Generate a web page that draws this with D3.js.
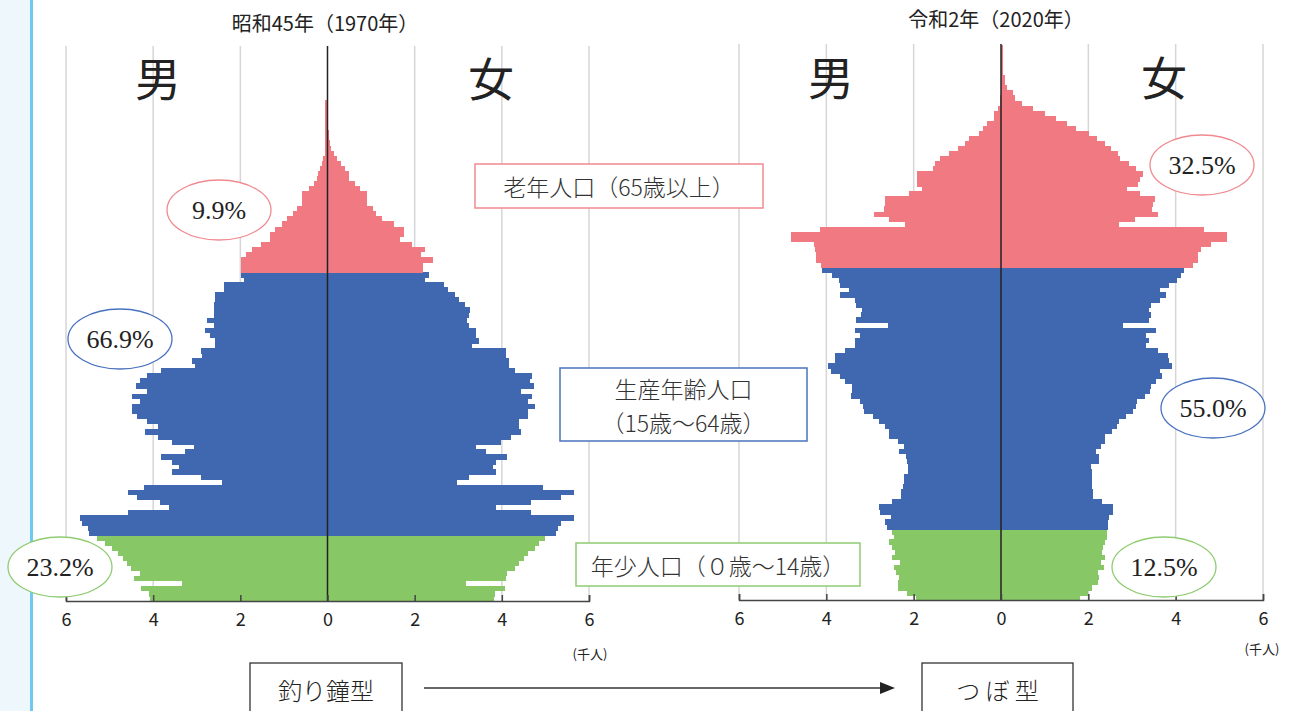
<!DOCTYPE html>
<html>
<head>
<meta charset="utf-8">
<script src="https://d3js.org/d3.v7.min.js"></script>
<style>
  body { margin: 0; background: #fff; }
  svg { display: block; }
</style>
</head>
<body>
<svg id="chart" width="1292" height="711"></svg>
<script>
// ---- data (thousand people, by single year of age, youngest first) ----
// 1970
const male1970Young = [4.08, 4.1, 4.27, 3.33, 4.45, 4.3, 4.5, 4.6, 4.7, 4.8, 4.95, 5.1, 5.3];
const female1970Young = [3.82, 3.85, 4.08, 3.18, 4.1, 4.12, 4.3, 4.4, 4.5, 4.6, 4.75, 4.85, 5.0];
const male1970Working = [5.47, 5.5, 5.63, 5.69, 4.57, 3.63, 3.85, 4.36, 4.57, 4.21, 2.43, 2.91, 3.57, 3.41, 3.57, 3.81, 3.28, 3.07, 3.57, 3.89,
  4.19, 3.89, 4.15, 4.36, 4.49, 4.49, 4.31, 4.49, 4.15, 4.39, 4.31, 4.15, 3.81, 3.03, 3.12, 2.87, 2.91, 2.57, 2.57, 2.69,
  2.82, 2.61, 2.77, 2.61, 2.61, 2.61, 2.57, 2.57, 2.38, 2.38, 1.92, 1.98];
const female1970Working = [5.25, 5.3, 5.35, 5.65, 4.66, 3.87, 4.66, 5.35, 5.65, 4.95, 2.98, 3.24, 3.87, 3.79, 3.87, 4.12, 3.63, 3.41, 3.97, 4.2,
  4.45, 4.4, 4.4, 4.61, 4.61, 4.77, 4.6, 4.69, 4.45, 4.74, 4.64, 4.69, 4.3, 4.16, 4.16, 4.1, 4.1, 3.32, 3.48, 3.41,
  3.41, 3.25, 3.21, 3.25, 3.27, 3.16, 3.02, 2.92, 2.76, 2.68, 2.24, 2.33];
const male1970Old = [1.98, 1.98, 1.98, 1.88, 1.74, 1.52, 1.31, 1.31, 1.2, 1.05, 0.93, 0.8, 0.7, 0.58, 0.58, 0.58, 0.42, 0.32, 0.25, 0.22,
  0.18, 0.13, 0.1, 0.06, 0.06, 0.06, 0.06, 0.06, 0.06, 0.06, 0.06, 0.06, 0.06, 0.06];
const female1970Old = [2.2, 2.2, 2.41, 2.15, 2.24, 1.95, 1.67, 1.75, 1.75, 1.52, 1.26, 1.12, 1.04, 0.91, 0.91, 0.91, 0.75, 0.62, 0.49, 0.49,
  0.41, 0.32, 0.21, 0.15, 0.09, 0.055, 0.03, 0.03, 0, 0, 0, 0, 0, 0];

// 2020
const male2020Young = [1.94, 2.16, 2.35, 2.35, 2.33, 2.41, 2.45, 2.31, 2.49, 2.43, 2.49, 2.57, 2.44, 2.5];
const female2020Young = [1.8, 2.0, 2.08, 2.22, 2.25, 2.22, 2.35, 2.28, 2.39, 2.31, 2.34, 2.39, 2.43, 2.42];
const male2020Working = [2.62, 2.65, 2.53, 2.76, 2.8, 2.5, 2.28, 2.28, 2.24, 2.21, 2.21, 2.13, 2.13, 2.16, 2.17, 2.33, 2.21, 2.37, 2.57, 2.57, 2.65,
  2.8, 2.92, 3.13, 3.16, 3.24, 3.43, 3.42, 3.42, 3.57, 3.69, 3.89, 3.96, 3.8, 3.8, 3.57, 3.34, 3.34, 3.23, 3.34, 2.58,
  3.32, 3.2, 3.18, 3.31, 3.34, 3.69, 3.47, 3.69, 3.7, 3.88, 4.1];
const female2020Working = [2.44, 2.46, 2.47, 2.57, 2.57, 2.31, 2.1, 2.1, 2.08, 2.08, 2.08, 2.08, 2.06, 2.25, 2.24, 2.17, 2.28, 2.39, 2.39, 2.55, 2.65,
  2.71, 2.87, 3.02, 3.09, 3.12, 3.3, 3.42, 3.43, 3.54, 3.69, 3.65, 3.91, 3.85, 3.83, 3.59, 3.32, 3.4, 3.32, 3.54, 2.79,
  3.4, 3.43, 3.4, 3.43, 3.64, 3.77, 3.65, 3.85, 4.02, 4.13, 4.2];
const male2020Old = [4.13, 4.24, 4.24, 4.26, 4.28, 4.81, 4.81, 4.15, 2.2, 2.56, 2.91, 2.68, 2.65, 2.65, 2.11, 1.81, 1.93, 1.93, 1.93,
  1.56, 1.52, 1.4, 1.19, 0.98, 0.83, 0.73, 0.5, 0.42, 0.31, 0.17, 0.15, 0.07, 0.03, 0.02, 0, 0, 0, 0, 0, 0, 0, 0, 0, 0];
const female2020Old = [4.39, 4.5, 4.52, 4.58, 4.82, 5.17, 5.17, 4.65, 2.7, 3.08, 3.59, 3.46, 3.49, 3.53, 3.18, 2.88, 3.14, 3.18, 3.26,
  3.1, 2.93, 2.73, 2.67, 2.52, 2.39, 2.2, 2.02, 1.72, 1.5, 1.26, 1.0, 0.74, 0.48, 0.32, 0.28, 0.13, 0.09, 0.09, 0.05,
  0.05, 0.05, 0.05, 0.05, 0.05];

const tickValues = [-6, -4, -2, 0, 2, 4, 6];
const shares1970 = ['23.2%', '66.9%', '9.9%'];
const shares2020 = ['12.5%', '55.0%', '32.5%'];
const groupLabels = ['年少人口（０歳〜14歳）', ['生産年齢人口', '（15歳〜64歳）'], '老年人口（65歳以上）'];
const shapeLabels = ['釣り鐘型', 'つ ぼ 型'];

// ---- drawing ----
const svg = d3.select('svg#chart');
const jp = '"Noto Sans CJK JP", "Noto Sans", sans-serif';
const serif = '"Liberation Serif", "DejaVu Serif", serif';
const colors = {young: '#88c766', working: '#3f68b1', old: '#f17a82'};
const strokes = {young: '#8fcc72', working: '#4a72bf', old: '#f08a90'};

// pale strip + blue rule on the left edge
svg.append('rect').attr('x', 0).attr('y', 0).attr('width', 30).attr('height', 711).attr('fill', '#eef7fc');
svg.append('line').attr('x1', 31.5).attr('x2', 31.5).attr('y1', 0).attr('y2', 711)
   .style('stroke', '#6ec8ef').style('stroke-width', 3);

function drawPyramid(cfg) {
    const g = svg.append('g');
    const x = d3.scaleLinear().domain([-6, 6]).range(cfg.xRange);

    const rows = [];
    [['young', cfg.male[0], cfg.female[0]], ['working', cfg.male[1], cfg.female[1]], ['old', cfg.male[2], cfg.female[2]]]
        .forEach(([grp, m, f]) => {
            m.forEach((v, i) => rows.push({age: rows.length, group: grp, male: v, female: f[i]}));
        });

    const y = d3.scaleBand().domain(rows.map(d => d.age)).range([cfg.yBottom, cfg.yTop]).padding(0);

    // grid
    tickValues.filter(t => t !== 0).forEach(t => {
        g.append('line')
            .attr('x1', x(t)).attr('x2', x(t))
            .attr('y1', cfg.gridTop).attr('y2', cfg.yBottom)
            .style('stroke', '#d6d6d6').style('stroke-width', 1.5);
    });

    // bars
    g.selectAll('rect.m').data(rows).join('rect')
        .attr('class', 'm')
        .attr('x', d => x(-d.male))
        .attr('y', d => y(d.age))
        .attr('width', d => x(0) - x(-d.male))
        .attr('height', y.bandwidth() + 0.6)
        .attr('shape-rendering', 'crispEdges')
        .attr('fill', d => colors[d.group]);
    g.selectAll('rect.f').data(rows).join('rect')
        .attr('class', 'f')
        .attr('x', x(0))
        .attr('y', d => y(d.age))
        .attr('width', d => x(d.female) - x(0))
        .attr('height', y.bandwidth() + 0.6)
        .attr('shape-rendering', 'crispEdges')
        .attr('fill', d => colors[d.group]);

    // centre line
    g.append('line')
        .attr('x1', x(0)).attr('x2', x(0))
        .attr('y1', cfg.gridTop).attr('y2', cfg.yBottom)
        .style('stroke', '#222').style('stroke-width', 1.5);

    // axis
    const axis = g.append('g')
        .attr('transform', `translate(0,${cfg.yBottom})`)
        .call(d3.axisBottom(x).tickValues(tickValues).tickFormat(d => Math.abs(d))
              .tickSizeInner(-6).tickSizeOuter(-6).tickPadding(12));
    axis.select('.domain').style('stroke', '#444').style('stroke-width', 1.5);
    axis.selectAll('.tick line').style('stroke', '#444').style('stroke-width', 1.5);
    axis.selectAll('.tick text').style('font-family', jp).style('font-size', '18px').style('fill', '#222');

    g.append('text').attr('x', cfg.unitX).attr('y', cfg.unitY)
        .attr('text-anchor', 'middle').style('font-family', jp).style('font-size', '13px').style('fill', '#222')
        .text('(千人)');

    // title and sex labels
    g.append('text').attr('x', cfg.titleX).attr('y', cfg.titleY)
        .attr('text-anchor', 'middle').style('font-family', jp).style('font-size', '20px').style('fill', '#222')
        .text(cfg.title);
    [['男', cfg.maleX], ['女', cfg.femaleX]].forEach(([t, px]) => {
        g.append('text').attr('x', px).attr('y', cfg.sexY)
            .attr('text-anchor', 'middle').attr('dominant-baseline', 'central')
            .style('font-family', jp).style('font-size', '46px').style('fill', '#222')
            .text(t);
    });

    // share ellipses
    ['young', 'working', 'old'].forEach((grp, i) => {
        const [cx, cy] = cfg.ellipses[i];
        g.append('ellipse').attr('cx', cx).attr('cy', cy).attr('rx', 52).attr('ry', 30)
            .attr('fill', 'white').style('stroke', strokes[grp]).style('stroke-width', 1.3);
        g.append('text').attr('x', cx).attr('y', cy + 9)
            .attr('text-anchor', 'middle').style('font-family', serif).style('font-size', '26px').style('fill', '#222')
            .text(cfg.shares[i]);
    });
}

drawPyramid({
    title: '昭和45年（1970年）', titleX: 325, titleY: 31,
    xRange: [66, 589], yBottom: 601, yTop: 100, gridTop: 46,
    male: [male1970Young, male1970Working, male1970Old],
    female: [female1970Young, female1970Working, female1970Old],
    shares: shares1970,
    ellipses: [[60, 567], [120, 339], [219, 210]],
    maleX: 158, femaleX: 491, sexY: 76,
    unitX: 590, unitY: 659
});

drawPyramid({
    title: '令和2年（2020年）', titleX: 996, titleY: 27,
    xRange: [739, 1263], yBottom: 600, yTop: 45, gridTop: 44,
    male: [male2020Young, male2020Working, male2020Old],
    female: [female2020Young, female2020Working, female2020Old],
    shares: shares2020,
    ellipses: [[1164, 567], [1213, 408], [1202, 165]],
    maleX: 831, femaleX: 1164, sexY: 75,
    unitX: 1262, unitY: 654
});

// group label boxes in the middle
const boxes = [
    {grp: 'young', x: 576, y: 543, w: 284, h: 43, lines: [groupLabels[0]]},
    {grp: 'working', x: 560, y: 368, w: 247, h: 73, lines: groupLabels[1]},
    {grp: 'old', x: 475, y: 164, w: 288, h: 44, lines: [groupLabels[2]]}
];
boxes.forEach(b => {
    svg.append('rect').attr('x', b.x).attr('y', b.y).attr('width', b.w).attr('height', b.h)
        .attr('fill', 'white').style('stroke', strokes[b.grp]).style('stroke-width', 1.5);
    const n = b.lines.length;
    b.lines.forEach((t, i) => {
        svg.append('text')
            .attr('x', b.x + b.w / 2)
            .attr('y', b.y + b.h / 2 + (i - (n - 1) / 2) * 34)
            .attr('text-anchor', 'middle').attr('dominant-baseline', 'central')
            .style('font-family', jp).style('font-weight', 300).style('font-size', '23px').style('fill', '#333')
            .text(t);
    });
});

// bottom: shape labels and arrow
[[250, 152, shapeLabels[0]], [922, 151, shapeLabels[1]]].forEach(([bx, bw, t]) => {
    svg.append('rect').attr('x', bx).attr('y', 663).attr('width', bw).attr('height', 60)
        .attr('fill', 'white').style('stroke', '#333').style('stroke-width', 1.3);
    svg.append('text').attr('x', bx + bw / 2).attr('y', 689)
        .attr('text-anchor', 'middle').attr('dominant-baseline', 'central')
        .style('font-family', jp).style('font-weight', 300).style('font-size', '24px').style('fill', '#222')
        .text(t);
});
svg.append('line').attr('x1', 424).attr('x2', 882).attr('y1', 688).attr('y2', 688)
    .style('stroke', '#333').style('stroke-width', 1.3);
svg.append('path').attr('d', 'M880,682L895,688L880,694Z').attr('fill', '#222');
</script>
</body>
</html>
